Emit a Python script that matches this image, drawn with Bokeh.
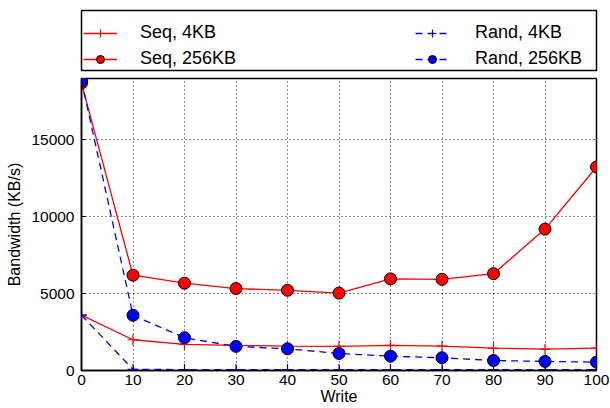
from bokeh.plotting import figure
from bokeh.models import Legend, LegendItem, FixedTicker, Range1d
from bokeh.layouts import column
from bokeh.embed import file_html
from bokeh.resources import INLINE

x = [0, 10, 20, 30, 40, 50, 60, 70, 80, 90, 100]
seq_4kb = [3600, 2000, 1700, 1630, 1590, 1570, 1630, 1590, 1460, 1390, 1460]
seq_256kb = [18700, 6200, 5680, 5330, 5220, 5040, 5960, 5930, 6300, 9200, 13240]
rand_4kb = [3600, 70, 60, 60, 60, 60, 60, 60, 60, 60, 60]
rand_256kb = [18850, 3590, 2130, 1570, 1410, 1110, 935, 830, 650, 590, 545]
x_ticks = [0, 10, 20, 30, 40, 50, 60, 70, 80, 90, 100]
y_ticks = [0, 5000, 10000, 15000]
labels = ["Seq, 4KB", "Seq, 256KB", "Rand, 4KB", "Rand, 256KB"]

FONT = "Liberation Sans"
RED = "#ff0000"
BLUE = "#0000ff"
DASH = "7 5"

p = figure(frame_width=515, frame_height=292, width=610, height=334,
           min_border_left=81, min_border_right=14, min_border_top=4, min_border_bottom=38,
           output_backend="svg", toolbar_location=None,
           x_range=Range1d(0, 100), y_range=Range1d(0, 19000))
p.background_fill_color = "white"
p.border_fill_color = "white"
p.outline_line_color = "black"
p.outline_line_width = 1.5

for ax in (p.xaxis[0], p.yaxis[0]):
    ax.major_tick_in = 4
    ax.major_tick_out = 0
    ax.minor_tick_in = 0
    ax.minor_tick_out = 0
    ax.axis_line_color = "black"
    ax.axis_line_width = 1.5
    ax.major_tick_line_color = "black"
    ax.major_label_text_font = FONT
    ax.major_label_text_font_size = "15.5px"
    ax.major_label_text_color = "black"
    ax.axis_label_text_font = FONT
    ax.axis_label_text_font_size = "16px"
    ax.axis_label_text_font_style = "normal"
    ax.axis_label_text_color = "black"

p.xaxis.ticker = FixedTicker(ticks=x_ticks)
p.yaxis.ticker = FixedTicker(ticks=y_ticks)
p.xaxis.axis_label = "Write"
p.yaxis.axis_label = "Bandwidth (KB/s)"
p.xaxis.major_label_standoff = 4
p.xaxis.axis_label_standoff = 0
p.yaxis.major_label_standoff = 7
p.yaxis.axis_label_standoff = 5

for g in (p.xgrid, p.ygrid):
    g.grid_line_color = "black"
    g.grid_line_dash = "1 3"
    g.grid_line_width = 1
    g.grid_line_alpha = 0.9
p.xgrid.ticker = FixedTicker(ticks=x_ticks)
p.ygrid.ticker = FixedTicker(ticks=y_ticks)


def draw(fig, visible=True):
    r = []
    r.append((fig.line(x, seq_4kb, line_color=RED, line_width=1.3, visible=visible),
              fig.scatter(x, seq_4kb, marker="cross", size=11, line_color=RED, line_width=1.2, visible=visible)))
    r.append((fig.line(x, seq_256kb, line_color=RED, line_width=1.3, visible=visible),
              fig.scatter(x, seq_256kb, marker="circle", size=12, fill_color=RED, line_color="black",
                          line_width=1, visible=visible)))
    r.append((fig.line(x, rand_4kb, line_color=BLUE, line_width=1.3, line_dash=DASH, visible=visible),
              fig.scatter(x, rand_4kb, marker="cross", size=11, line_color=BLUE, line_width=1.2, visible=visible)))
    r.append((fig.line(x, rand_256kb, line_color=BLUE, line_width=1.3, line_dash=DASH, visible=visible),
              fig.scatter(x, rand_256kb, marker="circle", size=12, fill_color=BLUE, line_color="black",
                          line_width=1, visible=visible)))
    return r


draw(p)

# legend panel above the plot
lg = figure(frame_width=515, frame_height=60, width=610, height=74,
            min_border_left=81, min_border_right=14, min_border_top=10, min_border_bottom=4,
            output_backend="svg", toolbar_location=None,
            x_range=Range1d(1000, 1001), y_range=Range1d(0, 1))
lg.axis.visible = False
lg.grid.visible = False
lg.outline_line_color = "black"
lg.outline_line_width = 1.5
lg.background_fill_color = "white"
lg.border_fill_color = "white"
rs = draw(lg, visible=False)

common = dict(glyph_width=34, glyph_height=20, spacing=5, padding=7,
              margin=0, label_text_font=FONT, label_text_font_size="18px",
              label_text_color="black", orientation="vertical",
              border_line_color=None, background_fill_alpha=0)

legA = Legend(items=[LegendItem(label=labels[0], renderers=list(rs[0])),
                     LegendItem(label=labels[1], renderers=list(rs[1]))],
              location=(2, 1), label_standoff=23, **common)
legB = Legend(items=[LegendItem(label=labels[2], renderers=list(rs[2])),
                     LegendItem(label=labels[3], renderers=list(rs[3]))],
              location=(334, 1), label_standoff=26, **common)
lg.add_layout(legA, "center")
lg.add_layout(legB, "center")

layout = column(lg, p, spacing=0)
open("out.html", "w").write(file_html(layout, INLINE))
